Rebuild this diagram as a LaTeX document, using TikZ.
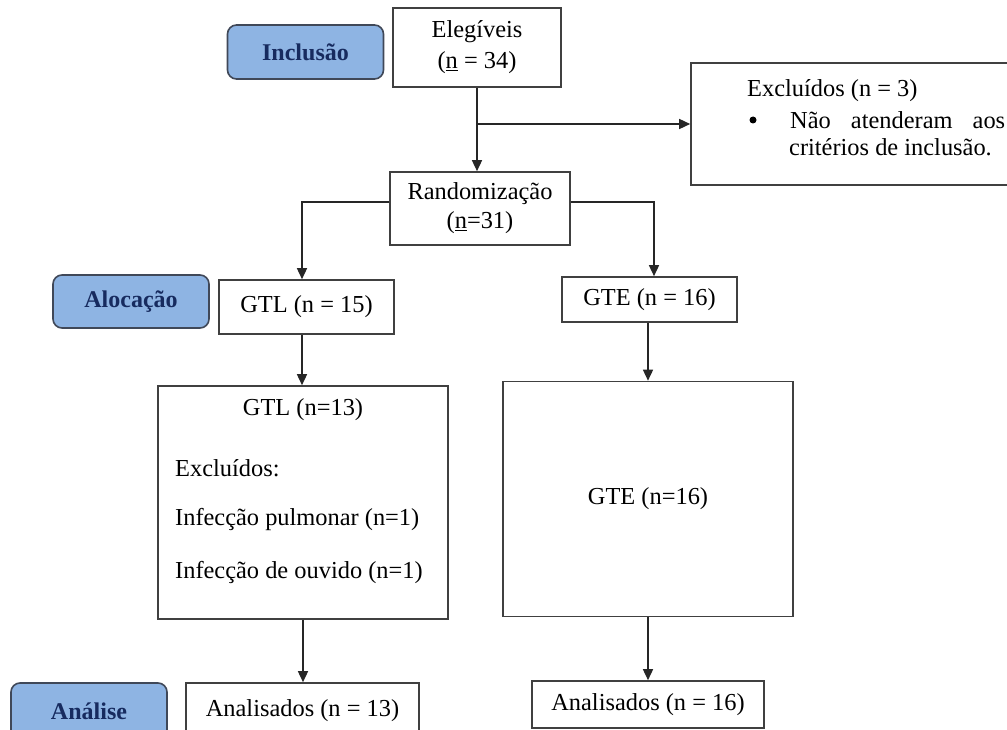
\documentclass[tikz,border=0pt]{standalone}
\usepackage{fontspec}
\setmainfont{Liberation Serif}
\usetikzlibrary{arrows.meta}
\definecolor{lbfill}{RGB}{142,180,227}
\definecolor{lbtext}{RGB}{23,43,95}
\definecolor{lbdraw}{RGB}{64,72,88}
\definecolor{boxdraw}{RGB}{64,64,64}
\begin{document}
\begin{tikzpicture}[x=1pt,y=-1pt,
  box/.style={draw=boxdraw,line width=1.6pt,fill=white,inner sep=0pt,align=center,
    font=\fontsize{24.4}{30}\selectfont},
  lab/.style={draw=lbdraw,line width=1.6pt,fill=lbfill,rounded corners=9pt,inner sep=0pt,
    text=lbtext,font=\fontsize{24}{26}\selectfont\bfseries,minimum width=156pt},
  txt/.style={inner sep=0pt,anchor=west,font=\fontsize{24.4}{28}\selectfont},
  arr/.style={draw=black!85,line width=1.5pt,-{Triangle[length=11pt,width=10pt]}},
  ln/.style={draw=black!85,line width=1.5pt}]
\useasboundingbox (0,0) rectangle (1007,730);
\clip (0,0) rectangle (1007,730);

% labels
\node[lab,minimum height=54pt] (incl) at (305.5,52) {Inclusão};
\node[lab,minimum height=53pt] (aloc) at (131,301.5) {Alocação};
\node[lab,minimum height=56pt] (anal) at (89,711) {Análise};

% boxes
\node[box,minimum width=168pt,minimum height=79pt,font=\fontsize{24.4}{31}\selectfont] (elig) at (477,47.5) {Elegíveis\\(\underline{n} = 34)};
\node[box,minimum width=329pt,minimum height=122pt] (excl) at (855.5,124) {};
\node[txt] (ex1) at (747,91) {Excluídos (n = 3)};
\node[circle,fill=black,inner sep=0pt,minimum size=7pt] (ex2) at (753,120) {};
\node[txt] (ex3) at (790,120) {\makebox[215pt][s]{Não atenderam aos}};
\node[txt] (ex4) at (789,147) {critérios de inclusão.};

\node[box,minimum width=180pt,minimum height=73pt,font=\fontsize{24.4}{29}\selectfont] (rand) at (480,208.5) {Randomização\\(\underline{n}=31)};

\node[box,minimum width=175pt,minimum height=54pt] (gtl15) at (306.5,307) {GTL (n = 15)};
\node[box,minimum width=175pt,minimum height=45pt] (gte16) at (649.5,299.5) {GTE (n = 16)};

\node[box,minimum width=290pt,minimum height=233pt] (gtl13) at (303,502.5) {};
\node[txt,anchor=center] (g13t) at (303,410) {GTL (n=13)};
\node[txt] (g13a) at (175,468) {Excluídos:};
\node[txt] (g13b) at (175,520) {Infecção pulmonar (n=1)};
\node[txt] (g13c) at (175,573) {Infecção de ouvido (n=1)};

\node[box,minimum width=290pt,minimum height=235pt] (gteb) at (648,499) {GTE (n=16)};

\node[box,minimum width=233pt,minimum height=56pt] (an13) at (302.5,711) {Analisados (n = 13)};
\node[box,minimum width=232pt,minimum height=47pt] (an16) at (648,704.5) {Analisados (n = 16)};

% connectors
\draw[arr] (elig.south) -- (elig.south |- rand.north);
\coordinate (br) at (477,124);
\draw[arr] (br) -- (br -| excl.west);
\draw[arr] ([yshift=6.5pt]rand.west) -| ([xshift=-4.5pt]gtl15.north);
\draw[arr] ([yshift=6.5pt]rand.east) -| ([xshift=4.5pt]gte16.north);
\draw[arr] ([xshift=-4.5pt]gtl15.south) -- ([xshift=-1pt]gtl13.north);
\draw[arr] ([xshift=-1.5pt]gte16.south) -- (gteb.north);
\draw[arr] (gtl13.south) -- (gtl13.south |- an13.north);
\draw[arr] (gteb.south) -- (an16.north);
\end{tikzpicture}
\end{document}
